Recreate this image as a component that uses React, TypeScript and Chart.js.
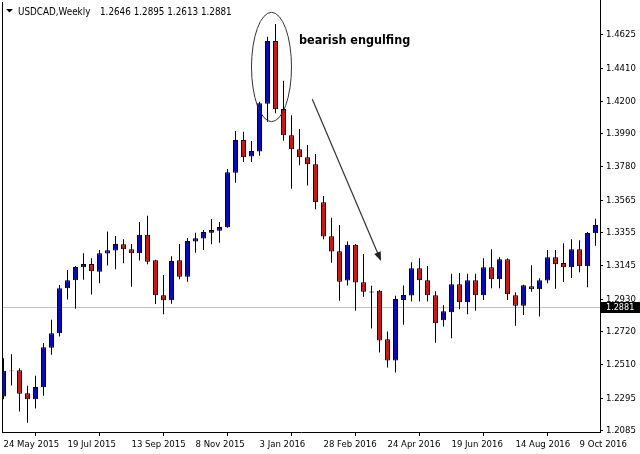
import React, { useEffect, useRef } from 'react';
import { Chart, registerables } from 'chart.js';

Chart.register(...registerables);

// ---- data ----
const tickLabels = ['24 May 2015', '19 Jul 2015', '13 Sep 2015', '8 Nov 2015', '3 Jan 2016', '28 Feb 2016', '24 Apr 2016', '19 Jun 2016', '14 Aug 2016', '9 Oct 2016'];
const tickIndex = [0, 8, 16, 24, 32, 40, 48, 56, 64, 72];
const priceTicks = [1.4625, 1.441, 1.42, 1.399, 1.378, 1.3565, 1.3355, 1.3145, 1.293, 1.272, 1.251, 1.2295, 1.2085];

const opens = [
  1.2305, 1.2473, 1.2474, 1.2327, 1.2288, 1.2365, 1.2619, 1.2711, 1.3000, 1.3051,
  1.3135, 1.3156, 1.3106, 1.3222, 1.3241, 1.3282, 1.3250, 1.3224, 1.3342, 1.3179,
  1.2955, 1.2923, 1.3179, 1.3074, 1.3299, 1.3318, 1.3356, 1.3369, 1.3391, 1.3741,
  1.3951, 1.3844, 1.3876, 1.4183, 1.4585, 1.4149, 1.3981, 1.3891, 1.3840, 1.3795,
  1.3551, 1.3333, 1.3237, 1.3049, 1.3278, 1.3038, 1.2979, 1.2983, 1.2673, 1.2536,
  1.2925, 1.2953, 1.3128, 1.3051, 1.2955, 1.2795, 1.2846, 1.3026, 1.2910, 1.3051,
  1.2955, 1.3135, 1.3058, 1.3186, 1.2955, 1.2888, 1.3013, 1.2994, 1.3049, 1.3199,
  1.3162, 1.3135, 1.3250, 1.3141, 1.3352,
];
const highs = [
  1.2551, 1.2577, 1.2487, 1.2374, 1.2438, 1.2649, 1.2797, 1.3021, 1.3117, 1.3143,
  1.3224, 1.3192, 1.3245, 1.3363, 1.3335, 1.3314, 1.3284, 1.3425, 1.3465, 1.3182,
  1.3085, 1.3205, 1.3284, 1.3322, 1.3356, 1.3374, 1.3444, 1.3425, 1.3765, 1.4008,
  1.4004, 1.3944, 1.4196, 1.4613, 1.4694, 1.4331, 1.4109, 1.4021, 1.3918, 1.3861,
  1.3592, 1.3451, 1.3406, 1.3299, 1.3284, 1.3220, 1.3015, 1.2989, 1.2722, 1.2951,
  1.3017, 1.3167, 1.3192, 1.3143, 1.2981, 1.2891, 1.3092, 1.3098, 1.3092, 1.3092,
  1.3192, 1.3250, 1.3199, 1.3192, 1.2974, 1.3022, 1.3147, 1.3064, 1.3245, 1.3245,
  1.3288, 1.3314, 1.3308, 1.3361, 1.3445,
];
const lows = [
  1.2288, 1.2376, 1.2209, 1.2138, 1.2228, 1.2311, 1.2574, 1.2690, 1.2927, 1.2869,
  1.3055, 1.2959, 1.3032, 1.3145, 1.3122, 1.3160, 1.3010, 1.3177, 1.3154, 1.2899,
  1.2833, 1.2901, 1.3058, 1.3042, 1.3228, 1.3245, 1.3282, 1.3292, 1.3388, 1.3677,
  1.3810, 1.3810, 1.3850, 1.4068, 1.4122, 1.3946, 1.3638, 1.3788, 1.3658, 1.3506,
  1.3314, 1.3164, 1.2920, 1.3017, 1.2856, 1.2946, 1.2741, 1.2587, 1.2491, 1.2459,
  1.2765, 1.2914, 1.2914, 1.2914, 1.2651, 1.2754, 1.2679, 1.2865, 1.2833, 1.2856,
  1.2925, 1.3000, 1.3000, 1.2925, 1.2760, 1.2829, 1.2978, 1.2818, 1.3032, 1.2997,
  1.3040, 1.3066, 1.3103, 1.3006, 1.3273,
];
const closes = [
  1.2470, 1.2467, 1.2324, 1.2288, 1.2367, 1.2622, 1.2711, 1.3000, 1.3051, 1.3136,
  1.3156, 1.3109, 1.3224, 1.3244, 1.3284, 1.3250, 1.3224, 1.3342, 1.3170, 1.2955,
  1.2923, 1.3175, 1.3074, 1.3303, 1.3320, 1.3361, 1.3374, 1.3393, 1.3744, 1.3951,
  1.3840, 1.3880, 1.4186, 1.4585, 1.4147, 1.3981, 1.3891, 1.3840, 1.3795, 1.3551,
  1.3331, 1.3235, 1.3042, 1.3278, 1.3036, 1.2978, 1.2973, 1.2664, 1.2536, 1.2931,
  1.2957, 1.3128, 1.3051, 1.2955, 1.2776, 1.2852, 1.3026, 1.2910, 1.3051, 1.2955,
  1.3135, 1.3058, 1.3186, 1.2961, 1.2888, 1.3019, 1.2994, 1.3051, 1.3199, 1.3154,
  1.3135, 1.3250, 1.3141, 1.3354, 1.3406,
];

const SYMBOL = 'USDCAD,Weekly';
const titleQuote = ['1.2646', '1.2895', '1.2613', '1.2881'];
const BID = 1.2881;
const annotationText = 'bearish engulfing';

// annotation anchors in data space (candle index, price)
const ellipseX = [31.0, 36.0];
const ellipseY = [1.4769, 1.4068];
const arrowFrom = [38.6, 1.4211];
const arrowTo = [47.19, 1.3175];
const textAt = [36.94, 1.4566];

// ---- styles ----
const FONT = "'DejaVu Sans Condensed', 'DejaVu Sans', sans-serif";
const BULL = '#0000ff';
const BEAR = '#ff0000';
const DOJI = '#000000';

const overlay = {
  id: 'mt4overlay',
  beforeDatasetsDraw(chart: any) {
    const { ctx, chartArea: a, scales } = chart;
    const py = Math.round(scales.y.getPixelForValue(BID)) + 0.5;
    ctx.save();
    ctx.strokeStyle = '#c0c0c0';
    ctx.lineWidth = 1;
    ctx.beginPath();
    ctx.moveTo(a.left, py);
    ctx.lineTo(a.right, py);
    ctx.stroke();
    ctx.restore();
  },
  afterDraw(chart: any) {
    const { ctx, chartArea: a, scales } = chart;
    const x = scales.x;
    const y = scales.y;
    ctx.save();
    // left frame line
    ctx.strokeStyle = '#000';
    ctx.lineWidth = 1;
    ctx.beginPath();
    ctx.moveTo(a.left + 0.5, 2);
    ctx.lineTo(a.left + 0.5, a.bottom);
    ctx.stroke();

    // title
    ctx.fillStyle = '#000';
    ctx.beginPath();
    ctx.moveTo(6, 9);
    ctx.lineTo(13, 9);
    ctx.lineTo(9.5, 12.5);
    ctx.closePath();
    ctx.fill();
    ctx.font = `9.8px ${FONT}`;
    ctx.textAlign = 'left';
    ctx.textBaseline = 'alphabetic';
    ctx.fillText(SYMBOL, 18, 15);
    ctx.fillText(titleQuote.join(' '), 100, 15);

    // ellipse around the engulfing pair
    const ex0 = x.getPixelForValue(ellipseX[0]);
    const ex1 = x.getPixelForValue(ellipseX[1]);
    const ey0 = y.getPixelForValue(ellipseY[0]);
    const ey1 = y.getPixelForValue(ellipseY[1]);
    ctx.strokeStyle = '#333';
    ctx.lineWidth = 1;
    ctx.beginPath();
    ctx.ellipse((ex0 + ex1) / 2, (ey0 + ey1) / 2, Math.abs(ex1 - ex0) / 2, Math.abs(ey1 - ey0) / 2, 0, 0, Math.PI * 2);
    ctx.stroke();

    // annotation text
    ctx.font = `bold 12.5px ${FONT}`;
    ctx.fillStyle = '#000';
    ctx.fillText(annotationText, x.getPixelForValue(textAt[0]), y.getPixelForValue(textAt[1]));

    // arrow
    const ax0 = x.getPixelForValue(arrowFrom[0]);
    const ay0 = y.getPixelForValue(arrowFrom[1]);
    const ax1 = x.getPixelForValue(arrowTo[0]);
    const ay1 = y.getPixelForValue(arrowTo[1]);
    const ang = Math.atan2(ay1 - ay0, ax1 - ax0);
    const hl = 9;
    const hw = 3.5;
    ctx.strokeStyle = '#333';
    ctx.lineWidth = 1.2;
    ctx.beginPath();
    ctx.moveTo(ax0, ay0);
    ctx.lineTo(ax1 - Math.cos(ang) * hl * 0.6, ay1 - Math.sin(ang) * hl * 0.6);
    ctx.stroke();
    ctx.fillStyle = '#222';
    ctx.beginPath();
    ctx.moveTo(ax1, ay1);
    ctx.lineTo(ax1 - Math.cos(ang) * hl - Math.sin(ang) * hw, ay1 - Math.sin(ang) * hl + Math.cos(ang) * hw);
    ctx.lineTo(ax1 - Math.cos(ang) * hl + Math.sin(ang) * hw, ay1 - Math.sin(ang) * hl - Math.cos(ang) * hw);
    ctx.closePath();
    ctx.fill();

    // bid price label on the axis
    const py = Math.round(y.getPixelForValue(BID));
    ctx.fillStyle = '#000';
    ctx.fillRect(a.right + 1, py - 5, chart.width - a.right - 1, 11);
    ctx.fillStyle = '#fff';
    ctx.font = `9px ${FONT}`;
    ctx.textBaseline = 'middle';
    ctx.fillText(BID.toFixed(4), a.right + 6, py + 0.5);
    ctx.restore();
  },
};

export default function App() {
  const ref = useRef<HTMLCanvasElement>(null);
  useEffect(() => {
    const canvas = ref.current;
    if (!canvas) return;
    const idx = opens.map((_, i) => i);
    const colors = opens.map((o, i) =>
      Math.abs(closes[i] - o) < 0.0008 ? DOJI : closes[i] > o ? BULL : BEAR
    );
    const chart = new Chart(canvas, {
      type: 'bar',
      data: {
        datasets: [
          {
            label: 'body',
            data: idx.map((i) => ({ x: i, y: [opens[i], closes[i]] })) as any,
            backgroundColor: colors,
            borderColor: '#000',
            borderWidth: 1,
            borderSkipped: false,
            barThickness: 5,
            grouped: false,
            inflateAmount: 0,
          } as any,
          {
            label: 'wick',
            data: idx.map((i) => ({ x: i, y: [lows[i], highs[i]] })) as any,
            backgroundColor: '#000',
            borderWidth: 0,
            barThickness: 1,
            grouped: false,
            inflateAmount: 0,
          } as any,
        ],
      },
      options: {
        animation: false,
        responsive: false,
        devicePixelRatio: 1,
        layout: { padding: { left: 2, top: 0, right: 0, bottom: 0 } },
        plugins: {
          legend: { display: false },
          tooltip: { enabled: false },
          title: { display: false },
        },
        scales: {
          x: {
            type: 'linear',
            position: 'bottom',
            min: -0.1875,
            max: 74.5625,
            offset: false,
            afterBuildTicks: (s: any) => {
              s.ticks = tickIndex.map((v) => ({ value: v }));
            },
            afterFit: (s: any) => {
              s.height = 22;
              s.paddingLeft = 0;
              s.paddingRight = 0;
            },
            ticks: {
              autoSkip: false,
              maxRotation: 0,
              minRotation: 0,
              align: 'start',
              padding: 3,
              color: '#000',
              font: { family: FONT, size: 9.5 },
              callback: (v: any) => {
                const k = tickIndex.indexOf(Number(v));
                return k >= 0 ? tickLabels[k] : '';
              },
            },
            grid: { drawOnChartArea: false, drawTicks: true, tickLength: 4, color: '#000' },
            border: { display: true, color: '#000' },
          },
          y: {
            type: 'linear',
            position: 'right',
            min: 1.2078,
            max: 1.4848,
            afterBuildTicks: (s: any) => {
              s.ticks = priceTicks.map((v) => ({ value: v }));
            },
            afterFit: (s: any) => {
              s.width = 40;
              s.paddingTop = 0;
              s.paddingBottom = 0;
            },
            ticks: {
              autoSkip: false,
              padding: 3,
              color: '#000',
              font: { family: FONT, size: 9.5 },
              callback: (v: any) => Number(v).toFixed(4),
            },
            grid: { drawOnChartArea: false, drawTicks: true, tickLength: 3, color: '#000' },
            border: { display: true, color: '#000' },
          },
        },
      } as any,
      plugins: [overlay],
    });
    return () => chart.destroy();
  }, []);
  return (
    <div style={{ position: 'absolute', left: 0, top: 0, width: 640, height: 454, background: '#fff' }}>
      <canvas ref={ref} width={640} height={454} style={{ display: 'block' }} />
    </div>
  );
}
